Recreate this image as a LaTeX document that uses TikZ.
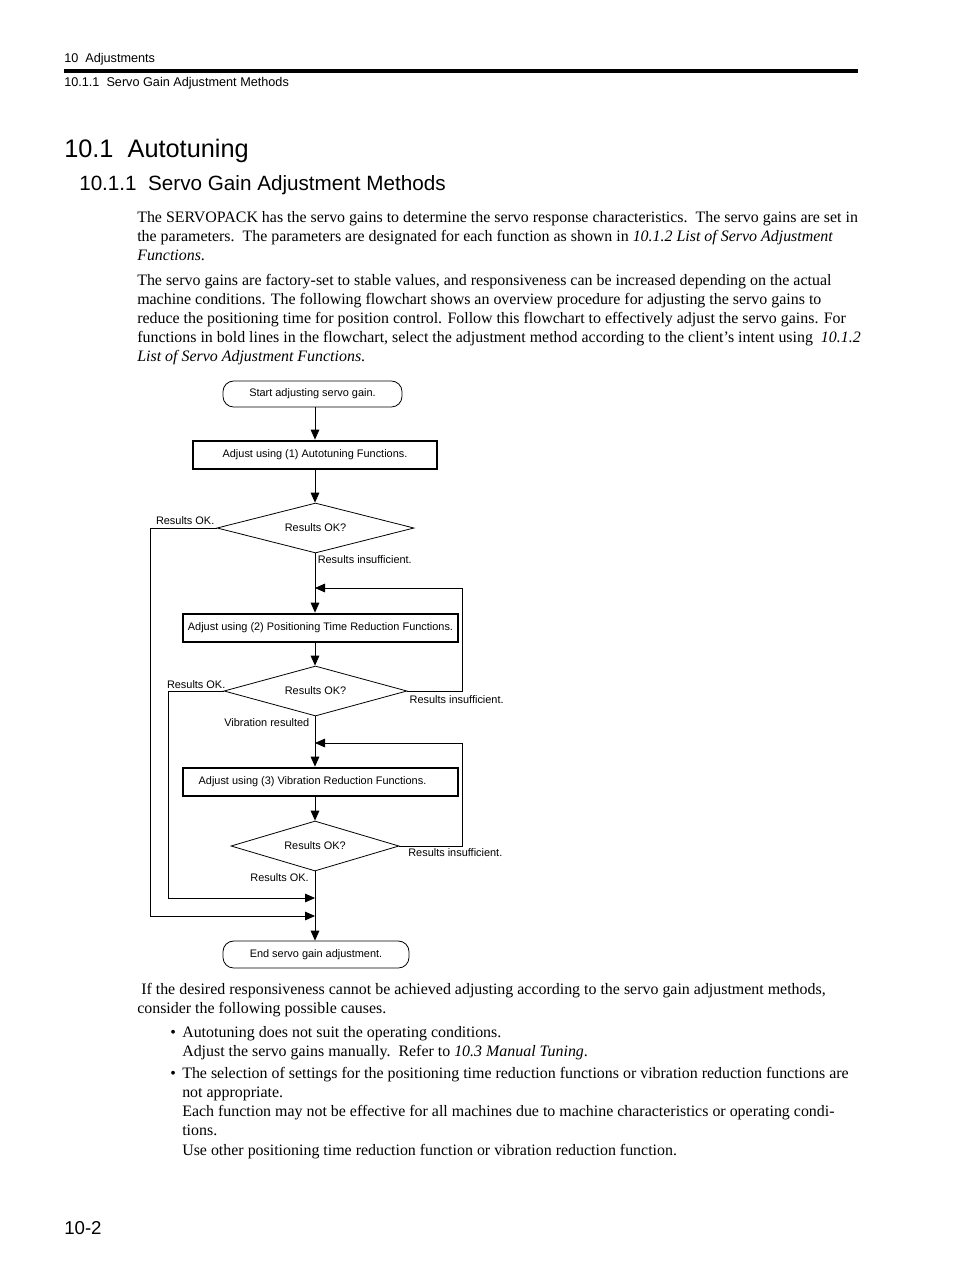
\documentclass[tikz,border=0pt]{standalone}
\usepackage{fontspec}
\setmainfont{Liberation Serif}
\newfontfamily\chartfont{Liberation Sans}
\newfontfamily\headfont{Liberation Sans}
\usetikzlibrary{arrows.meta,shapes.geometric,positioning}
\tikzset{%
   body/.style={anchor=base west, inner sep=0pt, font=\fontsize{11.95}{14}\selectfont},
   head/.style={anchor=base west, inner sep=0pt},
   term/.style={draw, rounded corners=8pt, line width=0.6pt, minimum height=19.5pt,
     font=\chartfont\fontsize{8.2}{9}\selectfont},
   proc/.style={draw, line width=2.1pt, minimum height=21pt, inner sep=0pt,
     font=\chartfont\fontsize{8.2}{9}\selectfont},
   test/.style={diamond, draw, aspect=4, inner sep=0pt, minimum height=37.5pt, line width=0.6pt,
     font=\chartfont\fontsize{8.2}{9}\selectfont},
   lbl/.style={inner sep=1.5pt, font=\chartfont\fontsize{8.2}{9}\selectfont},
   arr/.style={-{Triangle[length=7.5pt,width=6.5pt]}, line width=0.6pt},
   wire/.style={line width=0.6pt},
}
\begin{document}
\begin{tikzpicture}[x=0.75pt, y=-0.75pt]
   \path[fill=white, use as bounding box] (0,0) rectangle (954,1274);
   % page head
   \node[head, font=\headfont\fontsize{9.5}{11}\selectfont] (hd1) at (64,62.5) {10\ \ Adjustments};
   \fill (64,69.3) rectangle (858,73.3);
   \node[head, font=\headfont\fontsize{9.5}{11}\selectfont] (hd2) at (64,86) {10.1.1\ \ Servo Gain Adjustment Methods};
   \node[head, font=\headfont\fontsize{19}{22}\selectfont] (sec) at (64,157.5) {10.1\ \ Autotuning};
   \node[head, font=\headfont\fontsize{15.5}{18}\selectfont] (subsec) at (79,190) {10.1.1\ \ Servo Gain Adjustment Methods};
   % text above the chart
   \foreach \yy/\tx in {
      222/{The SERVOPACK has the servo gains to determine the servo response characteristics.\ \ The servo gains are set in},
      241/{the parameters.\ \ The parameters are designated for each function as shown in \textit{10.1.2 List of Servo Adjustment}},
      260/{\textit{Functions}.},
      285/{The servo gains are factory-set to stable values, and responsiveness can be increased depending on the actual},
      304/{machine conditions. The following flowchart shows an overview procedure for adjusting the servo gains to},
      323/{reduce the positioning time for position control. Follow this flowchart to effectively adjust the servo gains. For},
      342/{functions in bold lines in the flowchart, select the adjustment method according to the client’s intent using\ \ \textit{10.1.2}},
      361/{\textit{List of Servo Adjustment Functions}.}}
      \node[body] (t\yy) at (137,\yy) {\tx};

   % flowchart
   \coordinate (spine) at (315,0);
   \node[term, minimum width=134.25pt] (start) at (312.5,394) {Start adjusting servo gain.};
   \node[proc, minimum width=183pt] (box1) at (315,455) {Adjust using (1) Autotuning Functions.};
   \node[test, minimum width=147.75pt] (d1) at (315.5,528) {Results OK?};
   \node[proc, minimum width=206.25pt] (box2) at (320.5,628) {Adjust using (2) Positioning Time Reduction Functions.};
   \node[test, minimum width=137.25pt] (d2) at (315.5,691) {Results OK?};
   \node[proc, minimum width=206.25pt] (box3) at (320.5,782) {\hspace*{-12pt}Adjust using (3) Vibration Reduction Functions.};
   \node[test, minimum width=126pt] (d3) at (315,846) {Results OK?};
   \node[term, minimum width=139.5pt, minimum height=20.25pt] (end) at (316,954.5) {End servo gain adjustment.};

   \coordinate (m1) at (315,588);
   \coordinate (m2) at (315,743);
   \coordinate (m3) at (315,898);
   \coordinate (m4) at (315,916);
   \coordinate (r1) at (462,588);
   \coordinate (r2) at (462,743);
   \coordinate (l1) at (150,916);
   \coordinate (l2) at (168,898);

   \draw[arr] (start.south -| spine) -- (box1.north -| spine);
   \draw[arr] (box1.south -| spine) -- (d1.north -| spine);
   \draw[arr] (d1.south -| spine) -- (box2.north -| spine);
   \draw[arr] (box2.south -| spine) -- (d2.north -| spine);
   \draw[arr] (d2.south -| spine) -- (box3.north -| spine);
   \draw[arr] (box3.south -| spine) -- (d3.north -| spine);
   \draw[arr] (d3.south -| spine) -- (end.north -| spine);

   \draw[arr] (d2.east) -| (r1) -- (m1);
   \draw[arr] (d3.east) -| (r2) -- (m2);
   \draw[arr] (d1.west) -| (l1) -- (m4);
   \draw[arr] (d2.west) -| (l2) -- (m3);

   \node[lbl, anchor=south east, yshift=1pt] (ok1) at (d1.west) {Results OK.};
   \node[lbl, anchor=north west] (ins1) at (d1.south) {Results insufficient.};
   \node[lbl, anchor=south east, xshift=3pt] (ok2) at (d2.west) {Results OK.};
   \node[lbl, anchor=north west, yshift=-2pt] (ins2) at (d2.east) {Results insufficient.};
   \node[lbl, anchor=north east, xshift=-3pt] (vib) at (d2.south) {Vibration resulted};
   \node[lbl, anchor=north west, xshift=5pt] (ins3) at (d3.east) {Results insufficient.};
   \node[lbl, anchor=north east, xshift=-3pt] (ok3) at (d3.south) {Results OK.};

   % text below the chart
   \foreach \yy/\tx in {
      994/{\ If the desired responsiveness cannot be achieved adjusting according to the servo gain adjustment methods,},
      1013/{consider the following possible causes.}}
      \node[body] (t\yy) at (137,\yy) {\tx};
   \node[body] (bul1) at (170,1037) {\textbullet};
   \node[body] (bul2) at (170,1078) {\textbullet};
   \foreach \yy/\tx in {
      1037/{Autotuning does not suit the operating conditions.},
      1056/{Adjust the servo gains manually.\ \ Refer to \textit{10.3 Manual Tuning}.},
      1078/{The selection of settings for the positioning time reduction functions or vibration reduction functions are},
      1097/{not appropriate.},
      1116/{Each function may not be effective for all machines due to machine characteristics or operating condi-},
      1135/{tions.},
      1155/{Use other positioning time reduction function or vibration reduction function.}}
      \node[body] (t\yy) at (182,\yy) {\tx};

   \node[head, font=\headfont\fontsize{14}{16}\selectfont] (pg) at (64,1234) {10-2};
\end{tikzpicture}
\end{document}
